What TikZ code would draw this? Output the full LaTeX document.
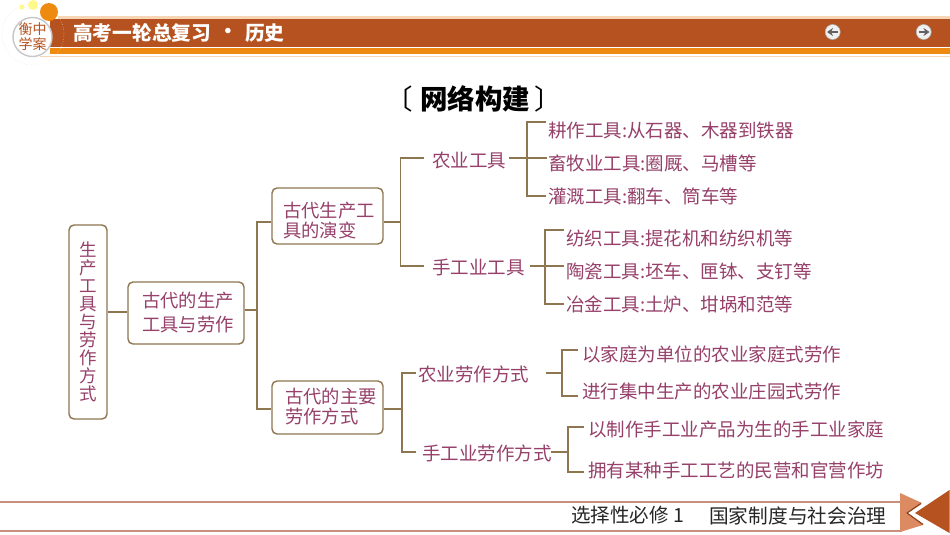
\documentclass[tikz,border=0pt]{standalone}
\usepackage{fontspec}
\setmainfont{Noto Sans CJK SC}
\usetikzlibrary{arrows.meta}
\definecolor{band}{HTML}{B5521F}
\definecolor{orangeb}{HTML}{EE8A10}
\definecolor{peach}{HTML}{F8D5B5}
\definecolor{wine}{HTML}{96406A}
\definecolor{rule}{HTML}{8E7650}
\definecolor{footrule}{HTML}{C98F80}
\definecolor{icon}{HTML}{DB8A62}
\definecolor{iconedge}{HTML}{8F3F14}
\newcommand{\twolines}[4]{\raisebox{#1}[0pt][0pt]{\vbox{\baselineskip=#2\lineskiplimit=-30pt\hbox{#3}\hbox{#4}}}}
\tikzset{
  x=1pt,y=-1pt,
  box/.style={draw=rule,line width=1.4pt,rounded corners=5pt,fill=white,inner sep=0pt,align=center,text=wine,font=\fontsize{18.3}{24}\selectfont},
  rootbox/.style={box,font=\fontsize{17.5}{18}\selectfont},
  lbl/.style={inner sep=0pt,text=wine,font=\fontsize{18.5}{22}\selectfont,anchor=west},
  conn/.style={draw=rule,line width=1.3pt},
  navbtn/.style={circle,minimum size=15pt,inner sep=0pt,fill=black!6,draw=black!30,line width=.6pt},
  navarrow/.style={draw=black!62,line width=1.7pt,-{Stealth[length=6pt,width=8pt]}},
}
\begin{document}
\begin{tikzpicture}
\useasboundingbox (0,0) rectangle (950,535);
\fill[white] (0,0) rectangle (950,535);
% header
\fill[peach] (58,16) rectangle (950,19);
\fill[band] (50,19) rectangle (950,47);
\fill[orangeb] (50,48) rectangle (950,54.5);
\fill[peach] (40,56) rectangle (950,57.5);
\draw[peach,line width=.5pt,dotted] (33,34) circle (31);
\fill[yellow!45!white] (33,5) circle (5);
\fill[yellow!45!white] (22,7) circle (2.6);
\fill[orangeb] (49,12) circle (9);
\node[circle,minimum size=39pt,inner sep=0pt,fill=white,draw=black!22,line width=1.4pt] (logo) at (32.5,37) {};
\node[inner sep=0pt,text=band,font=\fontsize{14}{15}\selectfont,align=center] (logotext) at (logo) {衡中\\学案};
\node[inner sep=0pt,anchor=west,text=white,font=\fontsize{19.7}{22}\selectfont\bfseries] (ht) at (73,33) {高考一轮总复习};
\node[inner sep=0pt,text=white,font=\fontsize{19.7}{22}\selectfont\bfseries] (hdot) at (228,33) {·};
\node[inner sep=0pt,anchor=west,text=white,font=\fontsize{19.7}{22}\selectfont\bfseries] (hh) at (245,33) {历史};
\node[navbtn] (prev) at (832.7,32) {};
\node[navbtn] (next) at (923.7,32) {};
\draw[navarrow] (838,32) -- (827,32);
\draw[navarrow] (918.5,32) -- (929.5,32);
% title
\node[inner sep=0pt,font=\fontsize{27.5}{30}\selectfont\bfseries] (title) at (475,99) {网络构建};
\node[inner sep=0pt,anchor=center,font=\fontsize{27.5}{30}\selectfont] (tl) at (399,99) {〔};
\node[inner sep=0pt,anchor=center,font=\fontsize{27.5}{30}\selectfont] (tr) at (548,99) {〕};
% boxes
\node[rootbox,minimum width=38pt,minimum height=194pt] (root) at (88,322) {生\\产\\工\\具\\与\\劳\\作\\方\\式};
\node[box,minimum width=116pt,minimum height=62pt] (m) at (186,313) {\hspace*{4pt}古代的生产\\\hspace*{4pt}工具与劳作};
\node[box,minimum width=111pt,minimum height=56pt] (a) at (327.5,216) {\twolines{-21pt}{20pt}{\hspace*{3pt}古代生产工}{\hspace*{3pt}具的演变}};
\node[box,minimum width=111pt,minimum height=53pt] (b) at (327.5,407.5) {\twolines{-15.5pt}{19.5pt}{\hspace*{7pt}古代的主要}{\hspace*{7pt}劳作方式}};
% labels
\node[lbl] (a1) at (432,160.5) {农业工具};
\node[lbl] (a2) at (432,267.5) {手工业工具};
\node[lbl] (b1) at (418,374.5) {农业劳作方式};
\node[lbl] (b2) at (422,453.5) {手工业劳作方式};
\node[lbl] (l1) at (548,130.5) {耕作工具:从石器、木器到铁器};
\node[lbl] (l2) at (548,163.5) {畜牧业工具:圈厩、马槽等};
\node[lbl] (l3) at (548,196.5) {灌溉工具:翻车、筒车等};
\node[lbl] (l4) at (566,238) {纺织工具:提花机和纺织机等};
\node[lbl] (l5) at (566,271) {陶瓷工具:坯车、匣钵、支钉等};
\node[lbl] (l6) at (566,304) {冶金工具:土炉、坩埚和范等};
\node[lbl] (l7) at (582,354.5) {以家庭为单位的农业家庭式劳作};
\node[lbl] (l8) at (582,391.5) {进行集中生产的农业庄园式劳作};
\node[lbl] (l9) at (588,429.5) {以制作手工业产品为生的手工业家庭};
\node[lbl] (l10) at (588,470.5) {拥有某种手工工艺的民营和官营作坊};
% connectors
\draw[conn] (root.east |- 0,312) -- (m.west |- 0,312);
\coordinate (j0) at (257,310);
\draw[conn] (m.east |- j0) -- (j0);
\draw[conn] (a.west |- 0,222) -| (j0) |- (b.west |- 0,409);
\coordinate (j1) at (400.7,222);
\draw[conn] (a.east |- j1) -- (j1);
\draw[conn] (424,158) -| (j1) |- (424,266);
\coordinate (j2) at (402,409);
\draw[conn] (b.east |- j2) -- (j2);
\draw[conn] (416,373) -| (j2) |- (416,452);
\coordinate (j3) at (527,158);
\draw[conn] (509,158) -- (547,158);
\draw[conn] (546,122) -| (j3) |- (546,196);
\coordinate (j4) at (545,266);
\draw[conn] (530,266) -- (564,266);
\draw[conn] (564,230) -| (j4) |- (564,304);
\coordinate (j5) at (562,373);
\draw[conn] (546,373) -- (j5);
\draw[conn] (578,350) -| (j5) |- (578,396);
\coordinate (j6) at (568,452);
\coordinate (b2s) at (551,452);
\draw[conn] (b2s) -- (j6);
\draw[conn] (584,427) -| (j6) |- (584,472);
% footer
\draw[footrule,line width=2pt] (0,502) -- (902,502);
\draw[footrule,line width=1.6pt] (0,531) -- (902,531);
\node[inner sep=0pt,anchor=west,text=black!85,font=\fontsize{19.5}{22}\selectfont] (f1) at (571,515.5) {选择性必修 1};
\node[inner sep=0pt,anchor=west,text=black!85,font=\fontsize{19.7}{22}\selectfont] (f2) at (709,515.5) {国家制度与社会治理};
\fill[icon] (900,493) -- (922,503) -- (906,513) -- (923,525) -- (900,532) -- cycle;
\draw[iconedge,line width=1.2pt] (921,503.5) -- (907,513) -- (923,524.5);
\fill[band] (949.5,490) -- (949.5,533) -- (915,513) -- cycle;
\end{tikzpicture}
\end{document}
